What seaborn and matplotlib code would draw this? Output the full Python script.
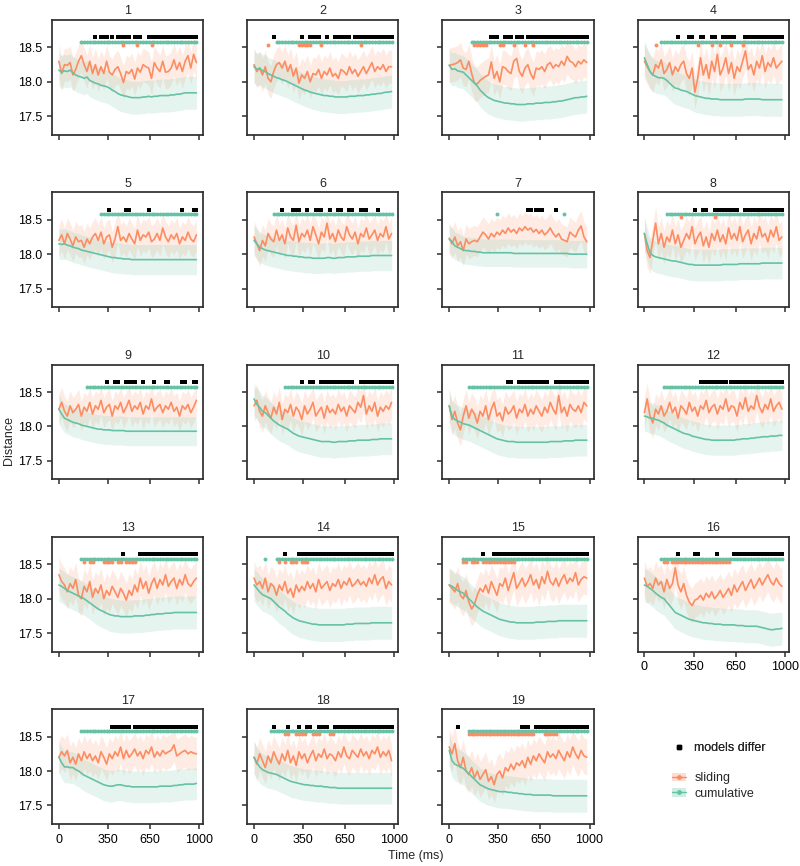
import pandas as pd
import seaborn as sns
import matplotlib.pyplot as plt
from matplotlib.lines import Line2D
from matplotlib.patches import Patch

# time axis (ms), one sample every 20 ms
times = list(range(0, 1000, 20))

# mean distance per panel
sliding_01 = [18.30,18.12,18.25,18.24,18.28,18.10,18.18,18.30,18.38,18.25,18.15,18.30,18.12,18.25,18.10,18.22,18.12,18.30,18.14,18.10,
              18.18,18.22,18.12,17.99,18.15,18.12,18.18,18.04,18.20,18.14,18.25,18.22,18.20,18.05,18.28,18.20,18.15,18.30,18.14,18.15,
              18.20,18.32,18.18,18.28,18.15,18.30,18.38,18.20,18.40,18.28]
cumulative_01 = [18.17,18.14,18.16,18.15,18.17,18.13,18.10,18.08,18.07,18.05,18.07,18.02,18.00,17.98,17.97,17.95,17.94,17.93,17.91,17.88,
                 17.86,17.83,17.81,17.80,17.79,17.78,17.77,17.77,17.77,17.77,17.78,17.78,17.79,17.78,17.79,17.79,17.80,17.80,17.80,17.80,
                 17.81,17.81,17.82,17.82,17.83,17.84,17.84,17.84,17.84,17.84]
sliding_02 = [18.25,18.15,18.20,18.10,18.22,18.05,18.00,18.15,18.25,18.28,18.20,18.30,18.15,18.25,18.08,18.20,17.98,18.10,18.05,18.15,
              18.00,18.12,18.10,18.18,18.05,18.15,18.10,18.20,18.08,18.12,18.05,18.18,18.15,18.10,18.22,18.12,18.18,18.08,18.15,18.22,
              18.12,18.20,18.28,18.15,18.22,18.18,18.25,18.15,18.22,18.22]
cumulative_02 = [18.22,18.18,18.20,18.16,18.15,18.12,18.10,18.08,18.06,18.05,18.03,18.02,18.00,17.98,17.96,17.94,17.92,17.90,17.88,17.87,
                 17.85,17.84,17.83,17.82,17.81,17.80,17.80,17.79,17.79,17.78,17.78,17.78,17.78,17.78,17.79,17.79,17.79,17.80,17.80,17.80,
                 17.81,17.81,17.82,17.82,17.83,17.83,17.84,17.85,17.85,17.86]
sliding_03 = [18.24,18.25,18.26,18.28,18.32,18.20,18.18,18.30,18.12,17.98,17.97,18.02,18.05,18.08,18.10,18.29,18.05,18.15,18.00,18.22,
              18.20,18.15,18.12,18.30,18.34,18.15,18.08,18.20,18.25,18.12,18.04,18.20,18.18,18.22,18.15,18.25,18.28,18.20,18.25,18.22,
              18.30,18.24,18.37,18.30,18.28,18.22,18.30,18.26,18.32,18.28]
cumulative_03 = [18.24,18.18,18.19,18.16,18.15,18.14,18.10,18.06,18.02,17.98,17.94,17.88,17.84,17.80,17.77,17.75,17.73,17.72,17.71,17.70,
                 17.69,17.69,17.68,17.68,17.67,17.67,17.67,17.67,17.68,17.68,17.68,17.69,17.69,17.69,17.70,17.70,17.70,17.71,17.71,17.72,
                 17.72,17.73,17.74,17.75,17.76,17.77,17.77,17.78,17.78,17.79]
sliding_04 = [18.30,18.22,18.15,18.10,18.25,18.20,18.32,18.12,18.18,18.28,18.10,18.22,18.15,18.25,18.30,18.12,18.05,18.20,17.85,18.05,
              18.35,18.10,18.25,18.05,18.30,18.15,18.40,18.10,18.20,18.35,18.12,18.28,18.05,18.22,18.15,18.30,18.45,18.18,18.25,18.10,
              18.30,18.20,18.38,18.15,18.28,18.22,18.35,18.20,18.25,18.30]
cumulative_04 = [18.35,18.25,18.15,18.10,18.08,18.06,18.06,18.05,18.02,17.98,17.94,17.91,17.90,17.88,17.87,17.86,17.84,17.82,17.80,17.79,
                 17.78,17.77,17.76,17.76,17.75,17.75,17.75,17.74,17.74,17.74,17.74,17.74,17.74,17.74,17.74,17.74,17.75,17.75,17.75,17.75,
                 17.75,17.75,17.74,17.74,17.74,17.74,17.74,17.74,17.74,17.74]
sliding_05 = [18.20,18.28,18.15,18.30,18.22,18.12,18.25,18.18,18.20,18.10,18.22,18.15,18.25,18.30,18.20,18.32,18.15,18.25,18.28,18.10,
              18.22,18.40,18.20,18.25,18.18,18.30,18.22,18.15,18.35,18.20,18.28,18.25,18.32,18.18,18.22,18.30,18.20,18.38,18.25,18.18,
              18.28,18.22,18.30,18.15,18.25,18.20,18.32,18.22,18.18,18.28]
cumulative_05 = [18.15,18.14,18.15,18.13,18.12,18.10,18.09,18.08,18.06,18.05,18.04,18.03,18.02,18.01,18.00,17.99,17.98,17.97,17.96,17.95,
                 17.95,17.94,17.94,17.93,17.93,17.93,17.92,17.92,17.92,17.92,17.92,17.92,17.92,17.92,17.92,17.92,17.92,17.92,17.92,17.92,
                 17.92,17.92,17.92,17.92,17.92,17.92,17.92,17.92,17.92,17.92]
sliding_06 = [18.25,18.15,18.05,18.20,18.12,18.30,18.22,18.18,18.35,18.20,18.28,18.15,18.38,18.25,18.20,18.42,18.18,18.30,18.25,18.35,
              18.20,18.40,18.28,18.15,18.32,18.25,18.45,18.22,18.30,18.18,18.35,18.25,18.20,18.40,18.28,18.22,18.32,18.15,18.30,18.25,
              18.38,18.22,18.28,18.35,18.20,18.30,18.25,18.40,18.22,18.30]
cumulative_06 = [18.20,18.15,18.10,18.08,18.06,18.05,18.04,18.03,18.02,18.01,18.00,17.99,17.98,17.98,17.97,17.97,17.96,17.96,17.95,17.95,
                 17.95,17.94,17.94,17.94,17.94,17.94,17.95,17.95,17.94,17.94,17.95,17.95,17.95,17.96,17.96,17.96,17.96,17.97,17.97,17.97,
                 17.97,17.97,17.98,17.98,17.98,17.98,17.98,17.98,17.98,17.98]
sliding_07 = [18.23,18.15,18.25,18.12,18.18,18.05,18.22,18.15,18.18,18.20,18.18,18.25,18.32,18.28,18.22,18.30,18.25,18.32,18.28,18.35,
              18.30,18.38,18.32,18.36,18.30,18.38,18.34,18.40,18.35,18.38,18.32,18.36,18.30,18.35,18.28,18.32,18.38,18.30,18.25,18.30,
              18.22,18.20,18.18,18.32,18.28,18.25,18.35,18.41,18.25,18.18]
cumulative_07 = [18.22,18.18,18.12,18.10,18.08,18.06,18.05,18.05,18.04,18.04,18.03,18.03,18.02,18.02,18.02,18.02,18.02,18.02,18.02,18.02,
                 18.02,18.02,18.02,18.01,18.01,18.01,18.01,18.01,18.01,18.01,18.01,18.01,18.01,18.01,18.01,18.01,18.01,18.01,18.01,18.01,
                 18.01,18.01,18.01,18.00,18.00,18.00,18.00,18.00,18.00,18.00]
sliding_08 = [18.30,18.05,17.95,18.20,18.45,18.15,18.30,18.10,18.25,18.18,18.35,18.15,18.28,18.10,18.20,18.30,18.22,18.40,18.15,18.25,
              18.32,18.12,18.25,18.10,18.30,18.20,18.35,18.18,18.28,18.15,18.38,18.22,18.30,18.20,18.40,18.18,18.28,18.35,18.15,18.30,
              18.22,18.40,18.25,18.30,18.18,18.35,18.25,18.40,18.20,18.25]
cumulative_08 = [18.30,18.15,18.02,17.98,17.96,17.95,17.94,17.93,17.92,17.91,17.90,17.90,17.89,17.88,17.87,17.86,17.85,17.85,17.84,17.84,
                 17.84,17.84,17.84,17.84,17.84,17.84,17.84,17.84,17.85,17.85,17.85,17.85,17.85,17.85,17.86,17.86,17.86,17.86,17.86,17.86,
                 17.86,17.86,17.87,17.87,17.87,17.87,17.87,17.87,17.87,17.87]
sliding_09 = [18.25,18.35,18.22,18.15,18.30,18.20,18.25,18.32,18.15,18.28,18.22,18.35,18.18,18.30,18.25,18.38,18.20,18.28,18.32,18.15,
              18.30,18.25,18.35,18.20,18.28,18.38,18.22,18.30,18.25,18.35,18.18,18.30,18.25,18.40,18.22,18.28,18.32,18.20,18.30,18.25,
              18.35,18.22,18.28,18.15,18.30,18.25,18.32,18.20,18.28,18.38]
cumulative_09 = [18.25,18.18,18.12,18.10,18.08,18.06,18.05,18.04,18.02,18.01,18.00,17.99,17.98,17.97,17.96,17.96,17.95,17.95,17.95,17.94,
                 17.94,17.94,17.94,17.94,17.93,17.93,17.93,17.93,17.93,17.93,17.93,17.93,17.93,17.93,17.93,17.93,17.93,17.93,17.93,17.93,
                 17.93,17.93,17.93,17.93,17.93,17.93,17.93,17.93,17.93,17.93]
sliding_10 = [18.30,18.38,18.22,18.15,18.30,18.20,18.12,18.28,18.18,18.35,18.10,18.25,18.20,18.32,18.15,18.28,18.22,18.10,18.30,18.18,
              18.25,18.35,18.15,18.22,18.28,18.12,18.30,18.20,18.25,18.18,18.32,18.22,18.28,18.15,18.30,18.25,18.20,18.35,18.28,18.45,
              18.18,18.30,18.22,18.35,18.15,18.28,18.22,18.30,18.25,18.35]
cumulative_10 = [18.40,18.32,18.28,18.22,18.20,18.16,18.12,18.08,18.05,18.02,18.00,17.98,17.96,17.93,17.90,17.88,17.86,17.85,17.84,17.83,
                 17.82,17.81,17.80,17.79,17.78,17.78,17.78,17.78,17.77,17.77,17.78,17.78,17.78,17.78,17.79,17.79,17.79,17.80,17.80,17.80,
                 17.80,17.80,17.81,17.81,17.81,17.82,17.82,17.82,17.82,17.82]
sliding_11 = [18.30,18.10,18.22,18.05,17.95,18.15,18.30,18.12,18.25,18.18,18.05,18.22,18.15,18.30,18.10,18.25,18.35,18.15,18.20,18.08,
              18.28,18.18,18.22,18.30,18.12,18.25,18.20,18.32,18.15,18.25,18.18,18.30,18.22,18.15,18.28,18.20,18.35,18.25,18.18,18.45,
              18.20,18.28,18.15,18.32,18.25,18.22,18.30,18.20,18.35,18.30]
cumulative_11 = [18.30,18.15,18.10,18.08,18.06,18.04,18.03,18.02,18.00,17.98,17.96,17.94,17.92,17.90,17.88,17.86,17.84,17.82,17.81,17.80,
                 17.79,17.78,17.78,17.78,17.77,17.77,17.77,17.77,17.77,17.77,17.77,17.77,17.77,17.77,17.77,17.77,17.78,17.78,17.78,17.78,
                 17.78,17.79,17.79,17.79,17.79,17.80,17.80,17.80,17.80,17.80]
sliding_12 = [18.20,18.40,18.15,18.05,18.25,18.18,18.30,18.15,18.22,18.35,18.20,18.28,18.12,18.30,18.25,18.18,18.35,18.22,18.28,18.15,
              18.30,18.25,18.38,18.20,18.28,18.32,18.18,18.30,18.25,18.40,18.22,18.30,18.28,18.15,18.35,18.25,18.42,18.22,18.30,18.25,
              18.45,18.28,18.20,18.32,18.25,18.40,18.22,18.30,18.35,18.25]
cumulative_12 = [18.15,18.14,18.12,18.12,18.10,18.09,18.07,18.05,18.02,18.00,17.98,17.96,17.94,17.92,17.90,17.89,17.88,17.86,17.85,17.84,
                 17.83,17.82,17.81,17.81,17.80,17.80,17.80,17.80,17.80,17.80,17.80,17.80,17.80,17.81,17.81,17.82,17.82,17.82,17.83,17.83,
                 17.84,17.84,17.85,17.85,17.85,17.86,17.86,17.86,17.87,17.87]
sliding_13 = [18.35,18.25,18.20,18.10,18.22,18.15,18.28,18.05,18.00,18.18,18.10,18.25,18.02,18.15,18.08,18.20,18.00,18.12,18.05,18.18,
              18.10,18.02,18.15,18.08,17.98,18.12,18.05,18.20,18.10,18.30,18.15,18.25,18.08,18.22,18.30,18.15,18.28,18.20,18.35,18.18,
              18.25,18.30,18.15,18.28,18.20,18.35,18.22,18.18,18.25,18.30]
cumulative_13 = [18.20,18.18,18.15,18.12,18.10,18.08,18.06,18.04,18.02,18.00,17.97,17.94,17.91,17.88,17.85,17.83,17.81,17.79,17.77,17.76,
                 17.75,17.75,17.74,17.74,17.74,17.74,17.74,17.75,17.75,17.75,17.75,17.76,17.76,17.77,17.77,17.78,17.78,17.78,17.79,17.79,
                 17.79,17.80,17.80,17.80,17.80,17.80,17.80,17.80,17.80,17.80]
sliding_14 = [18.30,18.20,18.25,18.15,18.30,18.10,18.22,18.18,18.05,18.20,18.12,18.25,18.08,18.15,18.02,18.20,18.10,18.18,18.12,18.25,
              18.15,18.22,18.10,18.28,18.15,18.20,18.25,18.12,18.22,18.18,18.28,18.15,18.25,18.20,18.30,18.18,18.22,18.28,18.20,18.25,
              18.18,18.30,18.22,18.35,18.20,18.28,18.32,18.15,18.25,18.20]
cumulative_14 = [18.20,18.15,18.10,18.06,18.04,18.02,18.00,17.96,17.92,17.88,17.85,17.82,17.78,17.75,17.72,17.70,17.68,17.67,17.66,17.65,
                 17.64,17.63,17.63,17.62,17.62,17.62,17.62,17.62,17.62,17.62,17.62,17.62,17.62,17.63,17.63,17.63,17.64,17.64,17.64,17.64,
                 17.64,17.64,17.65,17.65,17.65,17.65,17.65,17.65,17.65,17.65]
sliding_15 = [18.20,18.15,18.10,18.22,18.05,18.00,18.12,17.95,17.85,17.92,18.05,18.15,18.10,18.20,18.08,18.25,18.15,18.05,18.22,18.18,
              18.30,18.12,18.25,18.38,18.15,18.22,18.30,18.18,18.25,18.35,18.20,18.28,18.15,18.32,18.22,18.40,18.25,18.20,18.30,18.18,
              18.28,18.35,18.22,18.30,18.25,18.38,18.20,18.28,18.32,18.30]
cumulative_15 = [18.20,18.18,18.15,18.12,18.10,18.08,18.04,18.00,17.96,17.92,17.88,17.85,17.82,17.80,17.78,17.76,17.74,17.72,17.70,17.69,
                 17.68,17.67,17.66,17.66,17.65,17.65,17.65,17.65,17.65,17.65,17.65,17.66,17.66,17.66,17.66,17.67,17.67,17.67,17.67,17.68,
                 17.68,17.68,17.68,17.68,17.68,17.68,17.68,17.68,17.68,17.68]
sliding_16 = [18.30,18.18,18.22,18.15,18.30,18.20,18.25,18.10,18.28,18.15,18.22,18.45,18.20,18.10,18.22,18.05,17.95,17.90,17.98,18.00,
              18.05,17.98,18.08,18.02,18.10,18.00,18.05,18.12,18.02,18.08,18.15,18.05,18.20,18.10,18.18,18.25,18.12,18.20,18.28,18.15,
              18.22,18.30,18.20,18.28,18.35,18.25,18.20,18.30,18.22,18.18]
cumulative_16 = [18.20,18.18,18.15,18.12,18.08,18.05,18.02,18.00,17.95,17.90,17.85,17.80,17.78,17.76,17.74,17.72,17.70,17.69,17.68,17.67,
                 17.66,17.65,17.65,17.64,17.64,17.63,17.63,17.63,17.62,17.62,17.62,17.62,17.62,17.61,17.61,17.61,17.60,17.60,17.60,17.60,
                 17.60,17.59,17.58,17.57,17.56,17.55,17.55,17.56,17.56,17.57]
sliding_17 = [18.20,18.28,18.22,18.30,18.12,18.20,18.10,18.25,18.15,18.28,18.18,18.25,18.15,18.22,18.12,18.28,18.20,18.10,18.25,18.18,
              18.28,18.22,18.35,18.18,18.30,18.20,18.25,18.32,18.22,18.28,18.18,18.30,18.25,18.35,18.20,18.28,18.22,18.30,18.25,18.28,
              18.30,18.38,18.22,18.25,18.28,18.30,18.25,18.28,18.26,18.25]
cumulative_17 = [18.20,18.12,18.06,18.06,18.05,18.05,18.02,18.00,17.97,17.94,17.92,17.90,17.88,17.86,17.84,17.82,17.80,17.79,17.78,17.78,
                 17.79,17.80,17.80,17.79,17.78,17.78,17.77,17.77,17.77,17.77,17.77,17.77,17.77,17.77,17.77,17.77,17.78,17.78,17.78,17.78,
                 17.78,17.79,17.79,17.80,17.80,17.81,17.81,17.81,17.81,17.82]
sliding_18 = [18.20,18.10,18.25,18.15,18.05,18.22,18.12,18.28,18.18,18.10,18.25,18.15,18.30,18.12,18.22,18.08,18.28,18.18,18.25,18.12,
              18.22,18.30,18.15,18.25,18.20,18.32,18.18,18.25,18.22,18.15,18.28,18.20,18.35,18.22,18.18,18.30,18.25,18.20,18.32,18.22,
              18.28,18.18,18.30,18.25,18.35,18.20,18.28,18.22,18.30,18.15]
cumulative_18 = [18.20,18.12,18.06,18.02,18.00,17.98,17.97,17.96,17.95,17.93,17.91,17.89,17.87,17.85,17.84,17.83,17.82,17.81,17.80,17.80,
                 17.79,17.79,17.78,17.78,17.78,17.77,17.77,17.76,17.76,17.76,17.75,17.75,17.75,17.75,17.75,17.75,17.75,17.75,17.75,17.75,
                 17.75,17.75,17.75,17.75,17.75,17.75,17.75,17.75,17.75,17.75]
sliding_19 = [18.35,18.25,18.40,18.15,18.05,18.20,18.00,17.95,18.05,17.90,18.00,17.88,17.95,18.02,17.85,17.92,17.80,17.95,18.00,17.90,
              18.05,18.00,18.10,18.02,18.12,18.08,18.15,18.05,18.20,18.10,18.22,18.15,18.25,18.18,18.12,18.28,18.20,18.25,18.18,18.30,
              18.22,18.15,18.28,18.20,18.35,18.25,18.18,18.30,18.22,18.20]
cumulative_19 = [18.30,18.15,18.10,18.08,18.06,18.04,18.00,17.96,17.92,17.88,17.84,17.80,17.78,17.76,17.74,17.73,17.72,17.71,17.70,17.70,
                 17.70,17.69,17.69,17.68,17.68,17.67,17.67,17.66,17.66,17.66,17.65,17.65,17.65,17.65,17.65,17.65,17.65,17.64,17.64,17.64,
                 17.64,17.64,17.64,17.64,17.64,17.64,17.64,17.64,17.64,17.64]

# half width of the shaded bands, panel 1..19
sliding_band = [0.24,0.24,0.25,0.25,0.23,0.23,0.22,0.24,0.22,0.23,0.24,0.23,0.25,0.25,0.25,0.25,0.24,0.24,0.26]
cumulative_band = [0.24,0.24,0.24,0.24,0.22,0.22,0.20,0.23,0.21,0.23,0.23,0.22,0.24,0.24,0.24,0.24,0.23,0.23,0.24]

# stretches (ms, first-last) marked at the top of each panel
sig_sliding = {
    1: [(460, 460), (560, 560), (660, 660)],
    2: [(100, 100), (320, 400), (480, 480), (760, 760)],
    3: [(180, 260), (360, 380), (460, 460), (540, 540), (600, 600)],
    4: [(80, 80), (380, 380), (480, 480), (540, 540), (620, 620), (700, 700)],
    8: [(260, 260), (500, 500)],
    13: [(180, 180), (220, 240), (320, 380), (420, 440), (480, 540)],
    14: [(180, 180), (220, 220), (260, 300), (340, 380)],
    15: [(100, 120), (160, 200), (240, 460)],
    16: [(140, 160), (200, 600)],
    18: [(220, 240), (300, 360), (420, 460), (540, 560)],
    19: [(140, 600), (680, 760)],
}
sig_cumulative = {
    1: [(160, 980)], 2: [(160, 980)], 3: [(160, 980)], 4: [(120, 980)],
    5: [(300, 980)], 6: [(140, 980)], 7: [(340, 340), (820, 820)], 8: [(160, 980)],
    9: [(200, 980)], 10: [(220, 980)], 11: [(140, 980)], 12: [(140, 980)],
    13: [(160, 980)], 14: [(80, 80), (160, 980)], 15: [(100, 980)], 16: [(120, 980)],
    17: [(160, 980)], 18: [(120, 980)], 19: [(140, 980)],
}
sig_differ = {
    1: [(260, 260), (300, 340), (380, 380), (420, 500), (540, 580), (640, 980)],
    2: [(140, 140), (340, 340), (400, 460), (520, 520), (580, 680), (720, 980)],
    3: [(300, 340), (400, 440), (480, 520), (560, 980)],
    4: [(240, 240), (320, 340), (400, 420), (480, 500), (560, 640), (720, 980)],
    5: [(360, 360), (480, 500), (640, 640), (880, 880), (960, 980)],
    6: [(200, 200), (280, 320), (380, 380), (440, 480), (540, 540), (600, 620), (680, 700), (760, 800), (880, 880)],
    7: [(560, 580), (620, 660), (760, 760)],
    8: [(360, 360), (420, 440), (500, 660), (720, 980)],
    9: [(340, 340), (400, 420), (480, 540), (600, 600), (680, 680), (760, 780), (880, 900), (960, 980)],
    10: [(340, 340), (400, 420), (480, 700), (760, 980)],
    11: [(420, 440), (500, 700), (760, 980)],
    12: [(400, 580), (620, 980)],
    13: [(460, 460), (580, 980)],
    14: [(220, 220), (320, 980)],
    15: [(240, 240), (320, 980)],
    16: [(240, 240), (360, 380), (520, 520), (640, 980)],
    17: [(380, 500), (540, 980)],
    18: [(140, 140), (240, 240), (320, 320), (380, 400), (460, 520), (580, 980)],
    19: [(60, 60), (520, 560), (620, 980)],
}

sliding = [sliding_01, sliding_02, sliding_03, sliding_04, sliding_05, sliding_06, sliding_07, sliding_08, sliding_09, sliding_10,
           sliding_11, sliding_12, sliding_13, sliding_14, sliding_15, sliding_16, sliding_17, sliding_18, sliding_19]
cumulative = [cumulative_01, cumulative_02, cumulative_03, cumulative_04, cumulative_05, cumulative_06, cumulative_07,
              cumulative_08, cumulative_09, cumulative_10, cumulative_11, cumulative_12, cumulative_13, cumulative_14,
              cumulative_15, cumulative_16, cumulative_17, cumulative_18, cumulative_19]

ORANGE = '#fc8d62'
GREEN = '#66c2a5'
FS = 9

sns.set_theme(style='ticks')
plt.rcParams['font.family'] = ['Liberation Sans', 'DejaVu Sans']
plt.rcParams['font.size'] = FS
plt.rcParams['axes.edgecolor'] = '#2e2e2e'
plt.rcParams['axes.linewidth'] = 1.25
plt.rcParams['xtick.major.size'] = 3.5
plt.rcParams['ytick.major.size'] = 3.5
plt.rcParams['xtick.major.width'] = 1.1
plt.rcParams['ytick.major.width'] = 1.1
plt.rcParams['xtick.color'] = '#2e2e2e'
plt.rcParams['ytick.color'] = '#2e2e2e'
plt.rcParams['xtick.labelcolor'] = 'black'
plt.rcParams['ytick.labelcolor'] = 'black'
plt.rcParams['xtick.labelsize'] = FS
plt.rcParams['ytick.labelsize'] = FS


def marked(ranges):
    return [t for t in times if any(a <= t <= b for a, b in ranges)]


fig, axes = plt.subplots(5, 4, figsize=(8, 8.66), dpi=100, sharex=True, sharey=True)
fig.subplots_adjust(left=0.065, right=0.986, top=0.977, bottom=0.0485, wspace=0.29, hspace=0.5)
axes = axes.flatten()

for k in range(19):
    ax = axes[k]
    df = pd.DataFrame({
        'time': times * 2,
        'distance': sliding[k] + cumulative[k],
        'model': ['sliding'] * len(times) + ['cumulative'] * len(times),
    })
    for name, col, hw in [('sliding', ORANGE, sliding_band[k]), ('cumulative', GREEN, cumulative_band[k])]:
        sub = df[df['model'] == name]
        ax.fill_between(sub['time'], sub['distance'] - hw, sub['distance'] + hw,
                        color=col, alpha=0.17, linewidth=0)
    sns.lineplot(data=df, x='time', y='distance', hue='model', palette={'sliding': ORANGE, 'cumulative': GREEN},
                 linewidth=1.2, legend=False, ax=ax, errorbar=None)

    pts = marked(sig_differ.get(k + 1, []))
    if pts:
        sns.scatterplot(x=pts, y=[18.645] * len(pts), color='black', marker='s', s=6, linewidth=0, ax=ax)
    pts = marked(sig_cumulative.get(k + 1, []))
    if pts:
        sns.scatterplot(x=pts, y=[18.58] * len(pts), color=GREEN, marker='o', s=8, linewidth=0, ax=ax)
    pts = marked(sig_sliding.get(k + 1, []))
    if pts:
        sns.scatterplot(x=pts, y=[18.535] * len(pts), color=ORANGE, marker='o', s=8, linewidth=0, ax=ax)

    ax.set_title(str(k + 1), fontsize=FS, pad=4)
    ax.set_xlabel('')
    ax.set_ylabel('')

axes[0].set_ylim(17.23, 18.9)
axes[0].set_yticks([17.5, 18.0, 18.5])
axes[0].set_xticks([0, 350, 650, 1000])
axes[15].xaxis.set_tick_params(labelbottom=True)
axes[19].axis('off')

fig.text(0.52, 0.005, 'Time (ms)', ha='center', va='bottom', fontsize=FS)
fig.text(0.004, 1 - 440 / 866, 'Distance', rotation=90, ha='left', va='center', fontsize=FS)

h1 = [Line2D([], [], color='black', marker='s', markersize=2.2, linestyle='none')]
leg1 = fig.legend(h1, ['models differ'], loc='center left', bbox_to_anchor=(0.832, 1 - 748 / 866),
                  frameon=False, handlelength=1.1, handletextpad=0.7, borderpad=0, fontsize=FS)
h2 = [(Patch(facecolor=ORANGE, alpha=0.3, linewidth=0), Line2D([], [], color=ORANGE, marker='o', markersize=2.5, linewidth=1)),
      (Patch(facecolor=GREEN, alpha=0.3, linewidth=0), Line2D([], [], color=GREEN, marker='o', markersize=2.5, linewidth=1))]
fig.legend(h2, ['sliding', 'cumulative'], loc='center left', bbox_to_anchor=(0.832, 1 - 786 / 866),
           frameon=False, handlelength=1.1, handletextpad=0.7, borderpad=0, labelspacing=0.25, fontsize=FS)
fig.add_artist(leg1)

fig.savefig('out.png', dpi=100)
